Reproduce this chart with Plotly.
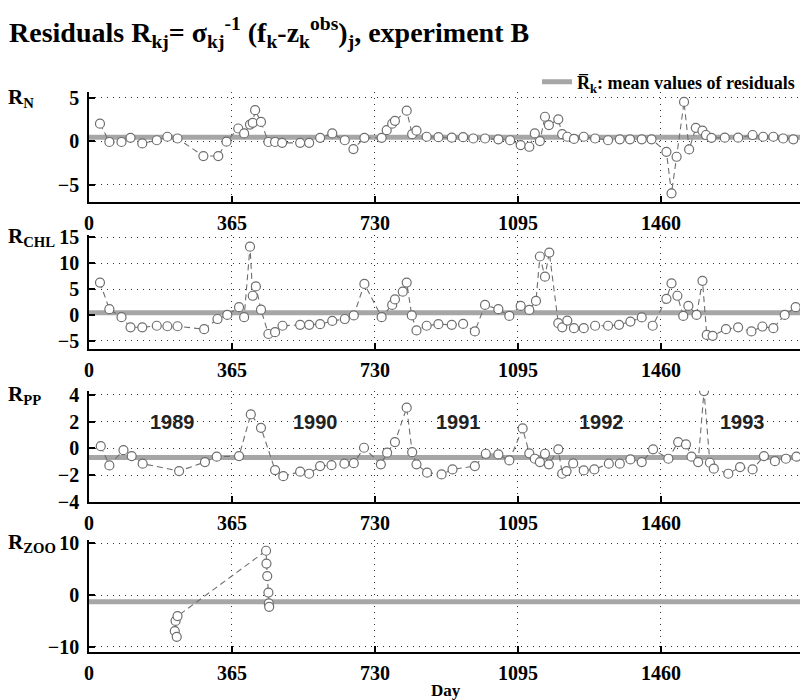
import plotly.graph_objects as go

# ---------------- data ----------------
day_n = [28, 52, 83, 106, 136, 173, 200, 226, 292, 330, 351, 381, 396, 411, 418, 424, 439, 458, 475, 493,
         539, 562, 590, 621, 653, 675, 703, 747, 760, 774, 781, 811, 825, 836, 862, 892, 926, 955, 981, 1011,
         1045, 1075, 1102, 1124, 1138, 1151, 1164, 1174, 1198, 1208, 1221, 1238, 1263, 1292, 1325, 1355, 1381,
         1411, 1436, 1474, 1487, 1500, 1519, 1532, 1549, 1566, 1575, 1589, 1623, 1657, 1694, 1721, 1747, 1772, 1798]
val_n = [2.0, -0.1, -0.1, 0.38, -0.27, 0.1, 0.5, 0.3, -1.72, -1.72, -0.07, 1.45, 0.88, 1.9, 2.1, 3.56, 2.2, -0.1, -0.1, -0.2,
         -0.2, -0.2, 0.38, 0.88, 0.1, -0.92, 0.38, 0.38, 1.26, 2.0, 2.33, 3.5, 0.8, 1.2, 0.5, 0.45, 0.4, 0.45, 0.3, 0.3,
         0.2, 0.1, -0.46, -0.65, 0.88, 0.0, 2.8, 1.84, 2.5, 0.8, 0.5, 0.25, 0.5, 0.3, 0.1, 0.2, 0.2,
         0.2, 0.2, -1.23, -6.0, -1.8, 4.5, -0.96, 1.53, 1.2, 0.7, 0.38, 0.4, 0.4, 0.7, 0.5, 0.5, 0.3, 0.2]

day_chl = [28, 52, 83, 106, 136, 173, 200, 226, 294, 328, 353, 383, 396, 411, 418, 426, 439, 458, 475, 494,
           539, 562, 590, 621, 653, 676, 703, 747, 774, 781, 801, 811, 824, 836, 862, 892, 926, 955, 985, 1011,
           1045, 1073, 1102, 1124, 1141, 1151, 1164, 1175, 1198, 1208, 1221, 1238, 1263, 1292, 1325, 1353, 1382,
           1411, 1439, 1474, 1487, 1502, 1517, 1530, 1551, 1566, 1577, 1592, 1626, 1657, 1691, 1719, 1747, 1776, 1804]
val_chl = [6.25, 1.1, -0.45, -2.4, -2.4, -2.1, -2.2, -2.2, -2.77, -0.8, 0.0, 1.5, -0.45, 13.2, 3.7, 5.5, 1.0, -3.7, -3.35, -2.1,
           -1.93, -1.93, -1.8, -1.16, -0.8, -0.1, 6.0, -0.45, 1.93, 3.0, 4.5, 6.25, -0.1, -3.0, -2.1, -1.8, -1.93, -1.74, -3.2, 1.93,
           1.1, -0.2, 1.74, 0.97, 2.7, 11.3, 7.4, 12.05, -1.6, -2.4, -1.1, -2.58, -2.58, -2.1, -2.1, -1.93, -1.3,
           -0.5, -2.1, 3.1, 6.1, 3.7, -0.2, 1.74, 0.0, 6.6, -3.87, -4.06, -2.77, -2.4, -3.2, -2.25, -2.58, 0.0, 1.5]

day_pp = [30, 52, 88, 109, 137, 230, 296, 326, 383, 413, 439, 475, 496, 539, 562, 590, 619, 652, 676, 702,
          745, 761, 781, 811, 825, 836, 863, 900, 928, 985, 1013, 1045, 1073, 1107, 1124, 1138, 1151, 1164, 1174,
          1198, 1208, 1219, 1236, 1263, 1290, 1327, 1355, 1382, 1411, 1440, 1479, 1504, 1524, 1538, 1555, 1570,
          1585, 1595, 1632, 1662, 1694, 1723, 1751, 1779, 1806]
val_pp = [0.17, -1.27, -0.13, -0.57, -1.14, -1.69, -1.02, -0.62, -0.57, 2.54, 1.54, -1.62, -2.07, -1.74, -1.89, -1.32, -1.25, -1.14, -1.1, 0.05,
          -1.19, -0.32, 0.47, 3.04, -0.28, -1.19, -1.81, -1.94, -1.57, -1.32, -0.4, -0.45, -0.9, 1.49, -0.37, -0.77, -1.02, -0.4, -1.19,
          -0.07, -1.89, -1.69, -1.12, -1.64, -1.57, -1.14, -1.14, -0.82, -1.02, -0.07, -0.77, 0.47, 0.3, -0.62, -1.02, 4.28,
          -1.07, -1.51, -1.89, -1.39, -1.57, -0.57, -0.95, -0.77, -0.62]

day_zoo = [219, 221, 224, 226, 452, 453, 455, 458, 459, 460]
val_zoo = [-6.96, -5.0, -8.06, -4.06, 8.58, 6.1, 3.68, 0.5, -1.6, -2.26]

mean_vals = [0.45, 0.4, -0.67, -1.3]
panel_names = ["R<sub>N</sub>", "R<sub>CHL</sub>", "R<sub>PP</sub>", "R<sub>ZOO</sub>"]
y_ranges = [[-7, 5.6], [-6.6, 15.4], [-4, 4.3], [-11, 10.6]]
y_ticks = [[-5, 0, 5], [-5, 0, 5, 10, 15], [-4, -2, 0, 2, 4], [-10, 0, 10]]
x_ticks = [0, 365, 730, 1095, 1460]
x_max = 1815
years = ["1989", "1990", "1991", "1992", "1993"]
year_days = [214, 577, 942, 1307, 1669]
year_y = 2.0

series = [(day_n, val_n), (day_chl, val_chl), (day_pp, val_pp), (day_zoo, val_zoo)]

# ---------------- layout geometry ----------------
W, H = 801, 700
domains = [[1 - 202 / H, 1 - 92.4 / H], [1 - 349 / H, 1 - 235.3 / H],
           [1 - 502 / H, 1 - 390.8 / H], [1 - 652 / H, 1 - 540.3 / H]]

SERIF = "Liberation Serif, Times New Roman, serif"
tickfont = dict(family=SERIF, size=20, color="black", weight="bold")
GRID = dict(showgrid=True, gridcolor="#333333", griddash="1px,5px", gridwidth=1)

fig = go.Figure()
layout = dict(
    width=W, height=H,
    margin=dict(l=89, r=1, t=0, b=0, autoexpand=False),
    paper_bgcolor="white", plot_bgcolor="white",
    showlegend=True,
    legend=dict(orientation="h", x=1, xanchor="right", y=1 - 82 / H, yanchor="middle",
                font=dict(family=SERIF, size=18, color="black", weight="bold"),
                bgcolor="rgba(0,0,0,0)", itemwidth=30),
    title=dict(text="Residuals R<sub>kj</sub>= σ<sub>kj</sub><sup>-1</sup> (f<sub>k</sub>-z<sub>k</sub><sup>obs</sup>)<sub>j</sub>, experiment B",
               x=9 / W, xref="container", xanchor="left", y=1 - 32 / H, yref="container", yanchor="middle",
               font=dict(family=SERIF, size=28, color="black", weight="bold")),
    annotations=[],
)

for i, ((d, v), m) in enumerate(zip(series, mean_vals)):
    k = "" if i == 0 else str(i + 1)
    xa, ya = "x" + k, "y" + k
    fig.add_trace(go.Scatter(
        x=[0, x_max], y=[m, m], mode="lines", xaxis=xa, yaxis=ya,
        line=dict(color="#a6a6a6", width=5),
        name="R\u0305<sub>k</sub>: mean values of residuals", showlegend=(i == 0),
        hoverinfo="skip"))
    fig.add_trace(go.Scatter(
        x=d, y=v, mode="lines+markers", xaxis=xa, yaxis=ya, showlegend=False,
        line=dict(color="#6e6e6e", width=1.1, dash="6px,4px"),
        marker=dict(symbol="circle", size=9, color="white",
                    line=dict(color="#6e6e6e", width=1.2))))
    layout["xaxis" + k] = dict(
        domain=[0, 1], range=[0, x_max], anchor=ya, automargin=False,
        tickvals=x_ticks, ticktext=[str(t) for t in x_ticks],
        ticks="inside", ticklen=6, tickwidth=1.5, tickcolor="black",
        showline=True, linecolor="black", linewidth=1.5, mirror=False,
        zeroline=False, tickfont=tickfont, ticklabelstandoff=2, **GRID)
    layout["yaxis" + k] = dict(
        domain=domains[i], range=y_ranges[i], anchor=xa, automargin=False,
        tickvals=y_ticks[i], ticks="inside", ticklen=6, tickwidth=1.5, tickcolor="black",
        showline=True, linecolor="black", linewidth=1.5, mirror=False,
        zeroline=False, tickfont=tickfont, ticklabelstandoff=4, **GRID)
    layout["annotations"].append(dict(
        text=panel_names[i], xref="paper", yref=ya, x=(6 - 89) / 711, y=y_ticks[i][-1],
        xanchor="left", yanchor="middle", showarrow=False,
        font=dict(family=SERIF, size=21, color="black", weight="bold")))

for yr, dd in zip(years, year_days):
    layout["annotations"].append(dict(
        text=yr, xref="x3", yref="y3", x=dd, y=year_y, showarrow=False,
        xanchor="center", yanchor="middle",
        font=dict(family="Liberation Sans, Arial, sans-serif", size=20, color="#222222", weight="bold")))

layout["annotations"].append(dict(
    text="Day", xref="paper", yref="paper", x=(446 - 89) / 711, y=10 / H,
    xanchor="center", yanchor="middle", showarrow=False,
    font=dict(family=SERIF, size=17, color="black", weight="bold")))

fig.update_layout(**layout)
fig.write_html("out.html")
